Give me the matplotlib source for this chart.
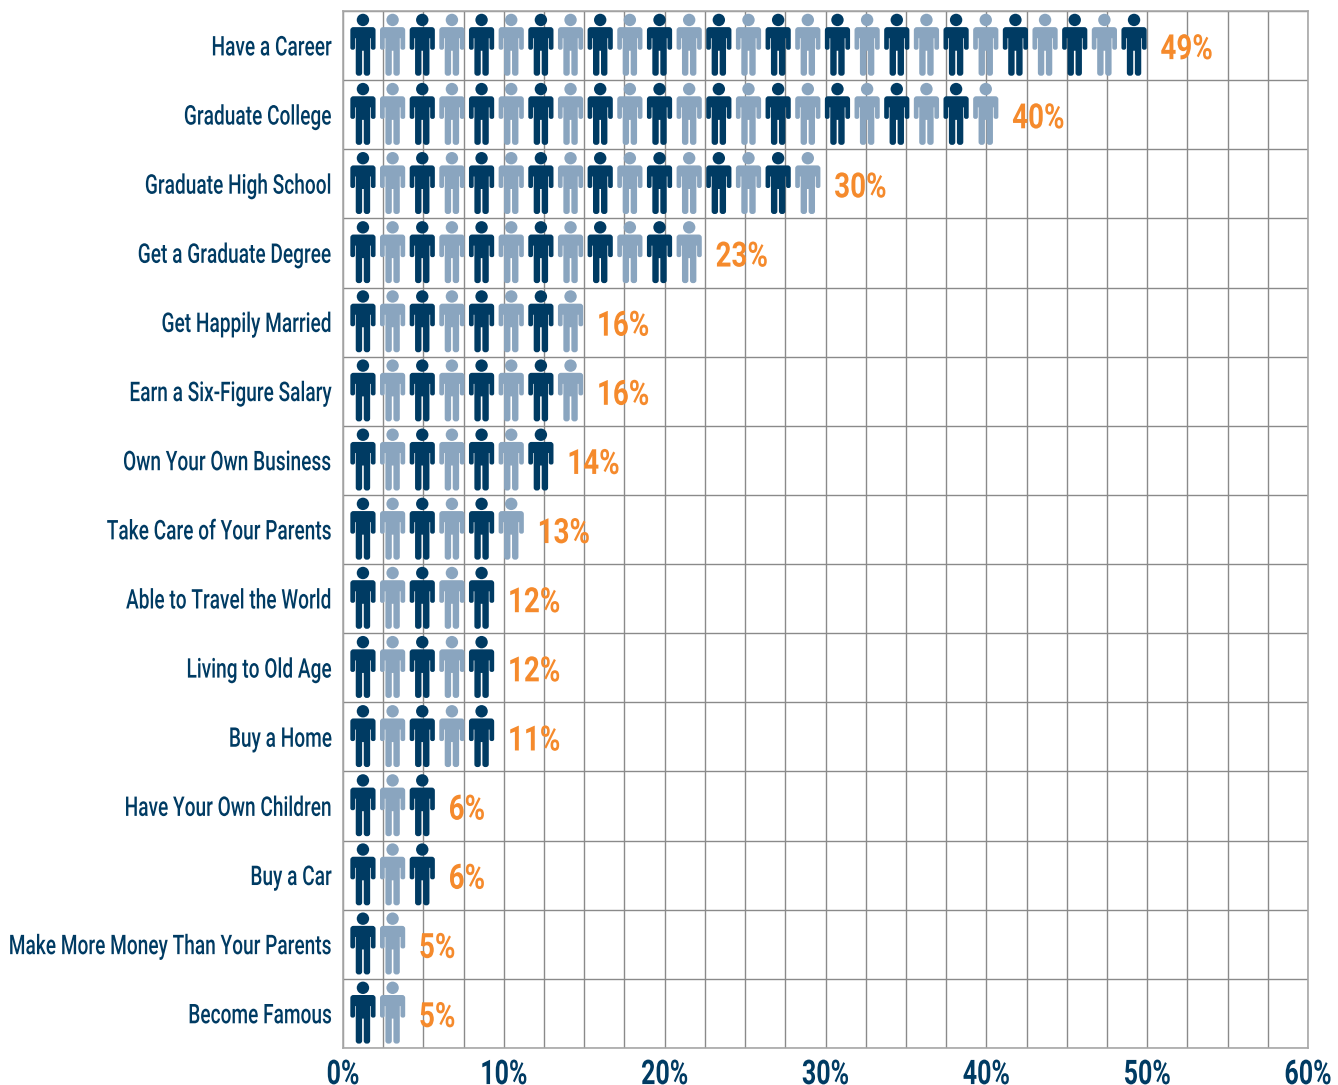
import numpy as np
import matplotlib
matplotlib.use("Agg")
import matplotlib.pyplot as plt
from matplotlib.path import Path
from matplotlib.patheffects import AbstractPathEffect
from matplotlib.transforms import Affine2D

categories = ["Have a Career", "Graduate College", "Graduate High School", "Get a Graduate Degree",
              "Get Happily Married", "Earn a Six-Figure Salary", "Own Your Own Business",
              "Take Care of Your Parents", "Able to Travel the World", "Living to Old Age",
              "Buy a Home", "Have Your Own Children", "Buy a Car",
              "Make More Money Than Your Parents", "Become Famous"]
percents = [49, 40, 30, 23, 16, 16, 14, 13, 12, 12, 11, 6, 6, 5, 5]
people = [27, 22, 16, 12, 8, 8, 7, 6, 5, 5, 5, 3, 3, 2, 2]
x_ticks = [0, 10, 20, 30, 40, 50, 60]

DARK = "#003b63"
LIGHT = "#8aa5bf"
ORANGE = "#f58a2c"
FONT = ["Roboto", "DejaVu Sans"]


class Tall(AbstractPathEffect):
    # no condensed font installed, so stretch the glyphs upward around mid cap height
    def __init__(self, sy):
        super().__init__()
        self.sy = sy

    def draw_path(self, renderer, gc, tpath, affine, rgbFace=None):
        stretch = Affine2D().translate(0, -35.5).scale(1, self.sy).translate(0, 35.5)
        renderer.draw_path(gc, tpath, stretch + affine, rgbFace)


def rounded(points, r):
    # closed polygon with rounded corners, r is one radius per point
    verts, codes = [], []
    n = len(points)
    for i in range(n):
        p = np.array(points[i], float)
        a = np.array(points[i - 1], float)
        b = np.array(points[(i + 1) % n], float)
        rad = r[i]
        start = p + (a - p) / np.linalg.norm(a - p) * rad
        end = p + (b - p) / np.linalg.norm(b - p) * rad
        verts.append(start)
        codes.append(Path.MOVETO if i == 0 else Path.LINETO)
        if rad > 0:
            verts += [p, end]
            codes += [Path.CURVE3, Path.CURVE3]
    verts.append(verts[0])
    codes.append(Path.CLOSEPOLY)
    return Path(verts, codes)


def person_marker():
    # sizes in pixels, feet at y=-31, top of head at y=31
    head = Path.circle((0, 24.8), 6.2)
    outline = [(-12.6, 17.6), (-12.6, -5.0), (-7.9, -5.0), (-7.9, 6.5), (-7.2, 6.5),
               (-7.2, -31), (-0.8, -31), (-0.8, -6), (0.8, -6), (0.8, -31), (7.2, -31),
               (7.2, 6.5), (7.9, 6.5), (7.9, -5.0), (12.6, -5.0), (12.6, 17.6)]
    radii = [3, 2, 2, 0, 0, 2.8, 2.8, 0, 0, 2.8, 2.8, 0, 0, 2, 2, 3]
    return Path.make_compound_path(head, rounded(outline, radii))


fig = plt.figure(figsize=(13.38, 10.85), dpi=100)
ax = fig.add_axes([343 / 1338, 1 - 1048 / 1085, 965 / 1338, 1037 / 1085])

n = len(categories)
ax.set_xlim(0, 60)
ax.set_ylim(n - 0.5, -0.5)

grid_x = np.arange(0, 60.1, 2.5)
ax.set_xticks(grid_x)
ax.set_xticklabels([f"{int(t)}%" if t in x_ticks else "" for t in grid_x],
                   fontsize=18, fontweight="bold", color=DARK, family=FONT)
ax.set_yticks(range(n))
ax.set_yticklabels(categories, fontsize=13.75, fontweight="medium", color=DARK, family=FONT)
ax.set_yticks(np.arange(-0.5, n), minor=True)
ax.tick_params(axis="x", length=0, pad=10)
ax.tick_params(axis="y", which="both", length=0, pad=8)
ax.grid(True, axis="x", color="#8a8a8a", lw=1.0)
ax.grid(True, axis="y", which="minor", color="#8a8a8a", lw=1.0)
ax.grid(False, axis="y", which="major")
ax.set_axisbelow(True)
for s in ax.spines.values():
    s.set_color("#a8a8a8")
    s.set_linewidth(1.2)

for label in ax.get_xticklabels():
    label.set_path_effects([Tall(1.36)])
for label in ax.get_yticklabels():
    label.set_path_effects([Tall(1.42)])

marker = person_marker()
size = (62 * 0.72) ** 2
start = 1.24
pitch = 1.844
for row, count in enumerate(people):
    xs = start + pitch * np.arange(count)
    ys = np.full(count, row - 0.012)
    colors = [DARK if i % 2 == 0 else LIGHT for i in range(count)]
    ax.scatter(xs, ys, s=size, marker=marker, c=colors, linewidths=0, zorder=3)
    ax.annotate(f"{percents[row]}%", (xs[-1], row), xytext=(19, -2.6), textcoords="offset points",
                ha="left", va="center", fontsize=20, fontweight="bold", color=ORANGE, family=FONT,
                zorder=4, path_effects=[Tall(1.25)])

fig.savefig("out.png", dpi=100)
